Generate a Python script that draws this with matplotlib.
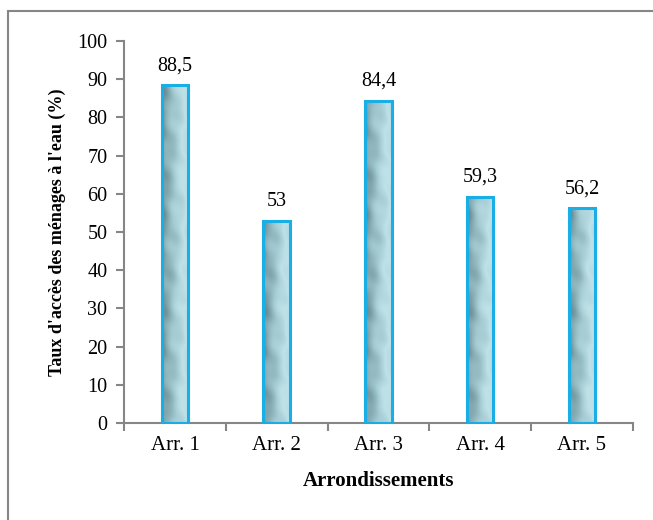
import matplotlib
matplotlib.use("Agg")
import matplotlib.pyplot as plt
import numpy as np
from matplotlib.patches import Rectangle
from matplotlib.colors import LinearSegmentedColormap

plt.rcParams["font.family"] = ["Liberation Serif", "DejaVu Serif"]

arrondissements = ["Arr. 1", "Arr. 2", "Arr. 3", "Arr. 4", "Arr. 5"]
taux_acces = [88.5, 53, 84.4, 59.3, 56.2]
value_labels = ["88,5", "53", "84,4", "59,3", "56,2"]

AXIS_GREY = "#868686"
EDGE_BLUE = "#19aee6"

fig = plt.figure(figsize=(6.53, 5.2), dpi=100)
fig.patches.append(Rectangle((8 / 653, -0.1), 1.2, 1.1 - 11 / 520,
                             transform=fig.transFigure, fill=False,
                             edgecolor=AXIS_GREY, linewidth=1.5))
ax = fig.add_axes([0.19, 0.1865, 0.779, 0.7345])

x = np.arange(len(arrondissements))
bars = ax.bar(x, taux_acces, width=0.26, color="none", edgecolor=EDGE_BLUE,
              linewidth=2.2, zorder=3)

# water-drop style texture: grey teal on the left fading to pale cyan
cmap = LinearSegmentedColormap.from_list(
    "eau", ["#5e828b", "#86abb3", "#a6ccd4", "#bfe2e8", "#b2d8e0"])
gx, gy = np.meshgrid(np.linspace(0, 1, 40), np.linspace(0, 1, 400))
texture = (0.8 * gx + 0.07 * np.sin(gy * 55 + gx * 6)
           + 0.05 * np.sin(gy * 21 - gx * 9) + 0.03 * np.cos(gy * 120 + gx * 3))
for bar in bars:
    bx, bw, bh = bar.get_x(), bar.get_width(), bar.get_height()
    im = ax.imshow(texture[: max(int(bh * 4), 2)], cmap=cmap, aspect="auto",
                   extent=(bx, bx + bw, 0, bh), origin="lower", zorder=2,
                   interpolation="bilinear")
    im.set_clip_path(bar)

for xi, val, lab in zip(x, taux_acces, value_labels):
    ax.text(xi, val + 2.6, lab, ha="center", va="bottom", fontsize=14.5)

ax.set_xlim(-0.5, len(arrondissements) - 0.5)
ax.set_ylim(0, 100)
ax.set_yticks(range(0, 101, 10))
ax.set_xticks(x)
ax.set_xticklabels(arrondissements)
ax.set_xticks(np.arange(-0.5, len(arrondissements)), minor=True)
ax.tick_params(axis="x", which="major", length=0, labelsize=15, pad=9)
ax.tick_params(axis="x", which="minor", length=6, color=AXIS_GREY, width=1.5)
ax.tick_params(axis="y", length=6, color=AXIS_GREY, width=1.5, labelsize=14.5,
               pad=6)

for side in ("top", "right"):
    ax.spines[side].set_visible(False)
for side in ("left", "bottom"):
    ax.spines[side].set_color(AXIS_GREY)
    ax.spines[side].set_linewidth(1.5)

ax.set_xlabel("Arrondissements", fontsize=15, fontweight="bold", labelpad=12)
ax.set_ylabel("Taux d'accès des ménages à l'eau (%)", fontsize=13,
              fontweight="bold", labelpad=8)

fig.savefig("out.png", dpi=100)
